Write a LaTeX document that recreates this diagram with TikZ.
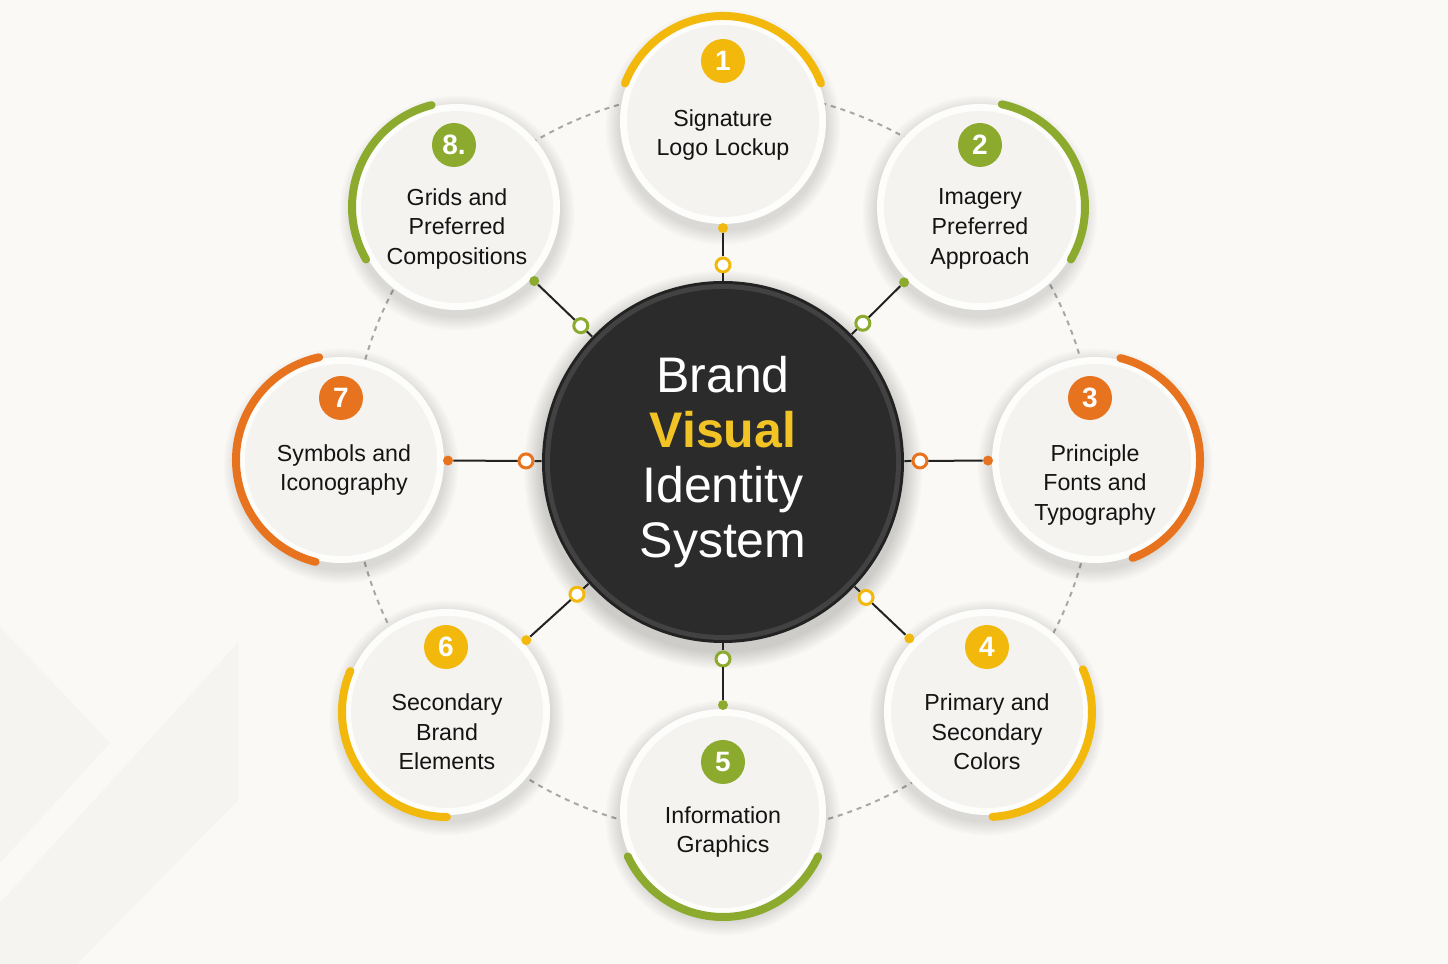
\documentclass[tikz,border=0pt]{standalone}
\usepackage{fontspec}
\setmainfont{Liberation Sans}
\usetikzlibrary{calc}
\definecolor{bg}{HTML}{FAF9F6}
\definecolor{bgs}{HTML}{F5F4F1}
\definecolor{yel}{HTML}{F2B90C}
\definecolor{grn}{HTML}{8CAA2E}
\definecolor{org}{HTML}{E8731F}
\definecolor{satin}{HTML}{F4F3F0}
\definecolor{satrim}{HTML}{FDFDFB}
\definecolor{ink}{HTML}{141414}
\definecolor{core}{HTML}{2B2B2B}
\definecolor{coreedge}{HTML}{222222}
\definecolor{corerim}{HTML}{424242}
\definecolor{dashc}{HTML}{A8A8A8}
\definecolor{titleyel}{HTML}{F2C324}
\begin{document}
\begin{tikzpicture}[x=0.5pt,y=0.5pt,
  sat/.style={circle, minimum size=103pt, inner sep=0pt, fill=satrim,
    path picture={\fill[satin] (path picture bounding box.center) circle (48pt);}},
  corebox/.style={circle, minimum size=181pt, inner sep=0pt, fill=coreedge,
    path picture={\fill[corerim] (path picture bounding box.center) circle (89pt);
                  \fill[core] (path picture bounding box.center) circle (86.5pt);}},
  badge/.style={circle, minimum size=22pt, inner sep=0pt, text=white,
    font=\fontsize{14}{14}\selectfont\bfseries},
  ringnode/.style={circle, minimum size=7pt, inner sep=0pt, line width=1.5pt, fill=white},
  dotnode/.style={circle, minimum size=5pt, inner sep=0pt},
  link/.style={draw=coreedge, line width=1pt},
  arcline/.style={line width=4pt, line cap=round},
  lbl/.style={align=center, text=ink, font=\fontsize{11.6}{14.8}\selectfont},
  ring of dashes/.style={draw=dashc, line width=1pt, dash pattern=on 2.5pt off 2.5pt}
]
\useasboundingbox (0,0) rectangle (1448,964);
\fill[bg] (0,0) rectangle (1448,964);
% faint background shapes
\fill[bgs] (0,337) -- (110,221) -- (0,101) -- cycle;
\fill[bgs] (0,61) -- (238,321) -- (238,164) -- (77,0) -- (0,0) -- cycle;

% positions
\coordinate (p1) at (723,843);
\coordinate (p2) at (980,757);
\coordinate (p3) at (1095,504);
\coordinate (p4) at (987,252);
\coordinate (p5) at (723,152);
\coordinate (p6) at (447,252);
\coordinate (p7) at (341,504);
\coordinate (p8) at (457,757);
\coordinate (pc) at (723,502);

% dashed orbit
\draw[ring of dashes] (pc) circle (372);

% shadows
\foreach \i in {1,...,8}{
  \foreach \k in {1,...,8}{
    \fill[black, opacity=0.016] ($(p\i)+(0,-6)$) circle ({51.5pt+\k*0.9pt});
  }
}
\foreach \k in {1,...,9}{
  \fill[black, opacity=0.02] ($(pc)+(0,-8)$) circle ({90.5pt+\k*1pt});
}

% satellites
\foreach \i in {1,...,8}{
  \node[sat] (s\i) at (p\i) {};
}
% centre
\node[corebox] (c) at (pc) {};
\node[align=center, text=white, font=\fontsize{25}{27.5}\selectfont] (title) at (pc)
  {Brand\\{\bfseries\color{titleyel}Visual}\\Identity\\System};

% connectors
\foreach \i/\col in {1/yel,2/grn,3/org,4/yel,5/grn,6/yel,7/org,8/grn}{
  \node[ringnode, draw=\col] (r\i) at ($(pc)!98.5pt!(p\i)$) {};
  \node[dotnode, fill=\col] (d\i) at ($(p\i)!53.5pt!(pc)$) {};
  \draw[link] (c) -- (r\i) (r\i) -- (d\i);
}

% coloured arcs
\foreach \i/\a/\b/\col in {1/21/159/yel, 2/-30/78/grn, 3/-69/76/org, 4/-87/24/yel,
    5/205/335/grn, 6/157/270/yel, 7/102/256/org, 8/104/210/grn}{
  \draw[arcline, draw=\col] ($(p\i)+(\a:105)$) arc[start angle=\a, end angle=\b, radius=105];
}

% badges
\node[badge, fill=yel] (b1) at (723,903) {1};
\node[badge, fill=grn] (b2) at (980,819) {2};
\node[badge, fill=org] (b3) at (1090,566) {3};
\node[badge, fill=yel] (b4) at (987,317) {4};
\node[badge, fill=grn] (b5) at (723,202) {5};
\node[badge, fill=yel] (b6) at (446,317) {6};
\node[badge, fill=org] (b7) at (341,566) {7};
\node[badge, fill=grn] (b8) at (454,819) {8.};

% labels
\node[lbl] (t1) at (723,829) {Signature\\Logo Lockup};
\node[lbl] (t2) at (980,735) {Imagery\\Preferred\\Approach};
\node[lbl] (t3) at (1095,479) {Principle\\Fonts and\\Typography};
\node[lbl] (t4) at (987,232) {Primary and\\Secondary\\Colors};
\node[lbl] (t5) at (723,132) {Information\\Graphics};
\node[lbl] (t6) at (447,232) {Secondary\\Brand\\Elements};
\node[lbl] (t7) at (344,494) {Symbols and\\Iconography};
\node[lbl] (t8) at (457,735) {Grids and\\Preferred\\Compositions};
\end{tikzpicture}
\end{document}
